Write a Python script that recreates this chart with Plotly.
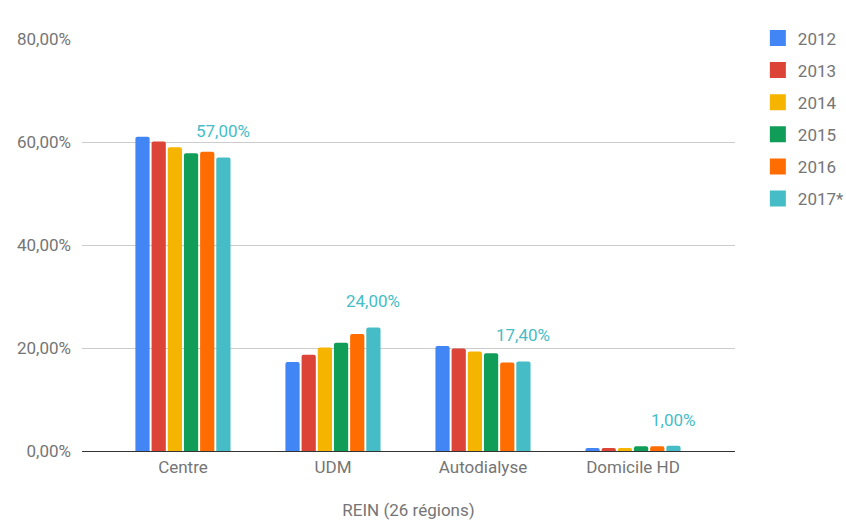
import plotly.graph_objects as go

# Dialysis modality share per year, REIN registry (26 regions)
categories = ["Centre", "UDM", "Autodialyse", "Domicile HD"]
years = ["2012", "2013", "2014", "2015", "2016", "2017*"]
values = {
    "2012": [61.0, 17.3, 20.4, 0.6],
    "2013": [60.1, 18.7, 19.9, 0.6],
    "2014": [59.0, 20.1, 19.3, 0.6],
    "2015": [57.8, 21.0, 19.0, 0.9],
    "2016": [58.1, 22.7, 17.2, 0.9],
    "2017*": [57.0, 24.0, 17.4, 1.0],
}
colors = ["#4285F4", "#DB4437", "#F4B400", "#0F9D58", "#FF6D00", "#46BDC6"]
labelled_year = "2017*"
y_ticks = [0, 20, 40, 60, 80]

BARGAP = 0.353
CAT_PX = 150  # pixel width of one category band
TEXT = "#757575"
FS = 17


def fr_pct(v):
    return f"{v:.2f}".replace(".", ",") + "%"


fig = go.Figure()
for yr, col in zip(years, colors):
    fig.add_trace(go.Bar(
        x=categories, y=values[yr], name=yr,
        marker=dict(color=col, line=dict(width=0)),
        showlegend=False,
        hoverinfo="skip",
    ))

# Value labels above the last series' bars
idx = years.index(labelled_year)
slot_px = CAT_PX * (1 - BARGAP) / len(years)
x_off = (idx - (len(years) - 1) / 2) * slot_px
for cat, v in zip(categories, values[labelled_year]):
    fig.add_annotation(
        x=cat, y=v, text=fr_pct(v), showarrow=False,
        xanchor="center", yanchor="bottom", xshift=x_off, yshift=14,
        font=dict(color=colors[idx], size=FS, family="Roboto"),
    )

# Legend entries with larger square swatches
for i, (yr, col) in enumerate(zip(years, colors)):
    fig.add_trace(go.Scatter(
        x=[None], y=[None], mode="markers", name=yr,
        marker=dict(symbol="square", size=16, color=col),
        legendgroup=f"g{i}",
    ))

fig.update_layout(
    width=846, height=520,
    margin=dict(l=82, r=111, t=39, b=69, autoexpand=False),
    paper_bgcolor="white", plot_bgcolor="white",
    font=dict(family="Roboto", size=FS, color=TEXT),
    barmode="group", bargap=BARGAP, bargroupgap=0.12, barcornerradius=2,
    legend=dict(
        x=1.035, y=1.045, xanchor="left", yanchor="top",
        font=dict(size=FS, color=TEXT),
        tracegroupgap=7, itemsizing="trace",
        bgcolor="rgba(0,0,0,0)",
    ),
    xaxis=dict(
        range=[-0.673, 3.68],
        showgrid=False, showline=False, zeroline=False,
        ticks="", ticklabelstandoff=4,
        tickfont=dict(size=FS, color=TEXT),
        title=dict(text="REIN (26 régions)", font=dict(size=FS, color=TEXT), standoff=30),
        fixedrange=True,
    ),
    yaxis=dict(
        range=[0, 80], tickvals=y_ticks,
        ticktext=[fr_pct(t) for t in y_ticks],
        showgrid=True, gridcolor="#cccccc", gridwidth=1,
        zeroline=True, zerolinecolor="#333333", zerolinewidth=1,
        showline=False, ticks="", ticklabelstandoff=10,
        tickfont=dict(size=FS, color=TEXT),
        fixedrange=True,
    ),
)

fig.write_html("out.html")
